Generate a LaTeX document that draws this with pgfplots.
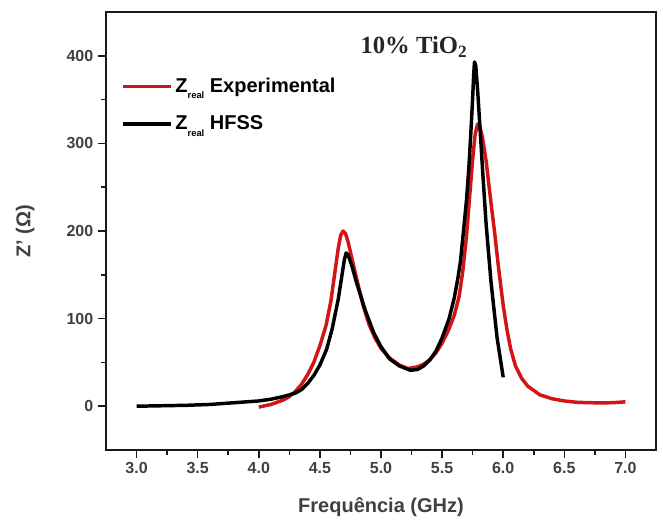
\documentclass[border=0pt]{standalone}
\usepackage{fontspec}
\setmainfont{Liberation Sans}
\newfontfamily\titlefont{Liberation Serif}
\usepackage{pgfplots}
\usepackage{pgfplotstable}
\pgfplotsset{compat=1.18}
\definecolor{expred}{HTML}{D41414}
\definecolor{axisdark}{HTML}{1A1A1A}

% Z_real, experimental
\pgfplotstableread{
x y
4.00 -1
4.10 2
4.20 7
4.25 11
4.30 17
4.35 25
4.40 36
4.45 50
4.50 69
4.55 92
4.59 120
4.62 150
4.65 180
4.67 195
4.69 200
4.71 197
4.73 188
4.76 170
4.80 146
4.85 117
4.90 94
4.95 78
5.00 66
5.07 55
5.15 47
5.22 43
5.30 45
5.35 48
5.40 53
5.45 61
5.50 72
5.55 86
5.60 104
5.64 126
5.67 155
5.70 195
5.72 230
5.75 282
5.77 310
5.79 322
5.81 318
5.83 307
5.86 280
5.90 232
5.93 198
5.96 160
6.00 115
6.03 88
6.06 66
6.10 46
6.15 32
6.20 23
6.30 13
6.40 8.5
6.50 6
6.60 4.5
6.70 4
6.80 3.8
6.90 4
7.00 5
}\expdata

% Z_real, HFSS
\pgfplotstableread{
x y
3.00 0
3.20 0.5
3.40 1
3.60 2
3.80 4
4.00 6
4.10 8
4.20 11
4.30 15
4.35 19
4.40 26
4.45 35
4.50 47
4.555 65
4.60 88
4.65 122
4.69 158
4.70 167
4.715 175
4.73 173
4.76 161
4.80 141
4.87 110
4.94 84
5.00 68
5.07 54
5.15 46
5.24 41
5.30 42
5.35 46
5.40 53
5.45 63
5.50 78
5.557 100
5.60 124
5.63 147
5.65 165
5.675 200
5.70 236
5.72 275
5.735 312
5.75 352
5.758 378
5.765 393
5.775 389
5.79 362
5.81 318
5.83 272
5.86 208
5.90 142
5.95 78
6.00 33
}\hfssdata

\begin{document}
\begin{tikzpicture}
\begin{axis}[
    at={(0pt,0pt)}, anchor=south west,
    width=412.5pt, height=328.5pt, scale only axis,
    xmin=2.75, xmax=7.25,
    ymin=-50, ymax=450,
    xtick={3,3.5,...,7},
    ytick={0,100,...,400},
    minor x tick num=1,
    minor y tick num=1,
    xtick pos=left, ytick pos=left,
    tick align=outside,
    major tick length=6pt,
    minor tick length=3.5pt,
    axis line style={axisdark, line width=1.3pt},
    every tick/.style={axisdark, line width=1.1pt},
    /pgf/number format/assume math mode=true,
    tick label style={font=\bfseries\fontsize{12}{14}\selectfont, text=black!75},
    xticklabel style={/pgf/number format/.cd, fixed, fixed zerofill, precision=1},
    yticklabel style={/pgf/number format/.cd, fixed, precision=0},
    xlabel={Frequência (GHz)},
    ylabel={Z’ (Ω)},
    label style={font=\bfseries\fontsize{15}{18}\selectfont, text=black!75},
    xlabel style={at={(axis description cs:0.5,-0.130)}, anchor=center},
    ylabel style={at={(axis description cs:-0.147,0.5)}, anchor=center},
    legend style={draw=none, fill=none, at={(axis description cs:0.025,0.859)},
      anchor=north west, font=\bfseries\fontsize{15}{18}\selectfont,
      row sep=12pt, inner sep=1pt},
    legend cell align=left,
    legend image code/.code={\draw[#1, line width=2.6pt] (0pt,0pt) -- (36pt,0pt);},
    clip=false,
  ]
  \addplot[expred, line width=2.6pt, line join=round] table[x=x, y=y] {\expdata};
  \addlegendentry{Z\raisebox{-0.6ex}{\fontsize{7}{8}\selectfont real} Experimental}
  \addplot[black, line width=2.6pt, line join=round] table[x=x, y=y] {\hfssdata};
  \addlegendentry{Z\raisebox{-0.6ex}{\fontsize{7}{8}\selectfont real} HFSS}
  \node[font=\titlefont\bfseries\fontsize{18.5}{22}\selectfont, text=black!85]
    at (axis cs:5.27,410) {10\% TiO\textsubscript{2}};
\end{axis}
\path (-79.5pt,-51.75pt) rectangle (417.75pt,337.5pt);
\end{tikzpicture}
\end{document}
